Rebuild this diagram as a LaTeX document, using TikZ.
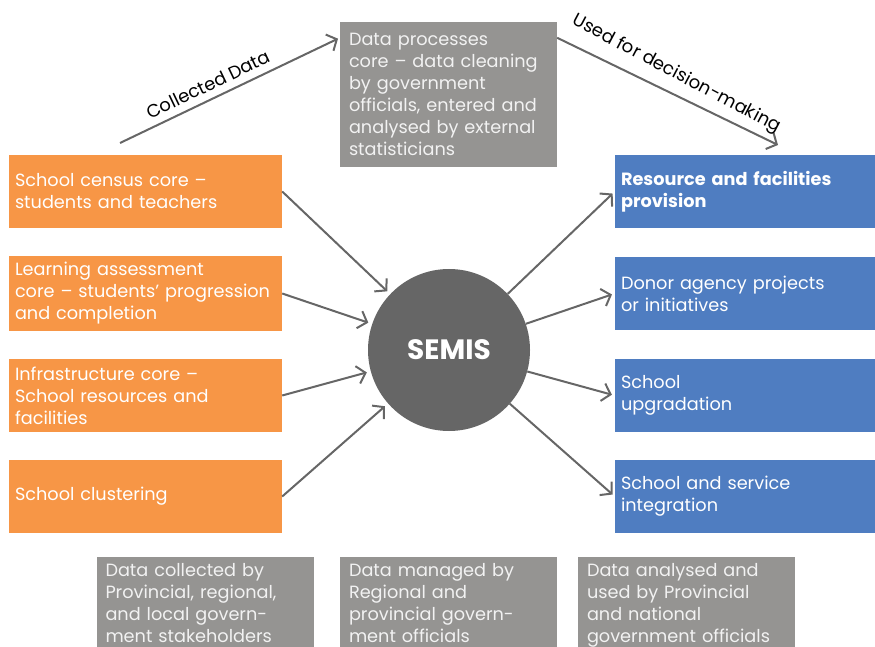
\documentclass[tikz,border=0pt]{standalone}
\usepackage{fontspec}
\setmainfont{Poppins}
\usetikzlibrary{arrows.meta}
\definecolor{coreorange}{HTML}{F79646}
\definecolor{useblue}{HTML}{4F7DC1}
\definecolor{notegrey}{HTML}{959492}
\definecolor{hubgrey}{HTML}{666666}
\definecolor{notetext}{HTML}{F2F2F2}

\begin{document}
\begin{tikzpicture}[x=1pt,y=1pt,
		every node/.style={font=\fontsize{17.7}{22}\selectfont},
		corebox/.style={fill=coreorange,text=white,minimum width=273pt,minimum height=73pt,text width=261pt,inner sep=6pt,align=left},
		usebox/.style={fill=useblue,text=white,minimum width=260pt,minimum height=73pt,text width=248pt,inner sep=6pt,align=left},
		notebox/.style={fill=notegrey,text=notetext,text width=199pt,inner xsep=9pt,inner ysep=6pt,align=left},
		flow/.style={draw=hubgrey,line width=2pt,-{Straight Barb[length=8pt,width=18pt]}},
		flowlabel/.style={font=\fontsize{18}{20}\selectfont,sloped,inner sep=2pt}
	]
		
		\useasboundingbox (0,0) rectangle (875,646);
		\clip (0,0) rectangle (875,646);
		
		\node[circle,fill=hubgrey,minimum size=162pt,text=white,font=\fontsize{28}{32}\bfseries] (semis) at (449,296) {SEMIS};
		
		\node[corebox] (census) at (145.5,454.5) {School census core –\\students and teachers};
		\node[corebox] (assess) at (145.5,352.5) {Learning assessment\\core – students’ progression\\and completion};
		\node[corebox] (infra) at (145.5,250.5) {Infrastructure core –\\School resources and\\facilities};
		\node[corebox] (cluster) at (145.5,149.5) {School clustering};
		
		\node[usebox,font=\fontsize{17.7}{22}\bfseries] (resource) at (745,454.5) {Resource and facilities\\provision};
		\node[usebox] (donor) at (745,352.5) {Donor agency projects\\or initiatives};
		\node[usebox] (upgrade) at (745,250.5) {School\\upgradation};
		\node[usebox] (service) at (745,149.5) {School and service\\integration};
		
		\node[notebox,minimum width=217pt,minimum height=145pt] (process) at (448.5,551.5) {Data processes\\core – data cleaning\\by government\\officials, entered and\\analysed by external\\statisticians};
		
		\node[notebox,anchor=north] (collect) at (205,89) {Data collected by\\Provincial, regional,\\and local govern-\\ment stakeholders};
		\node[notebox,anchor=north] (manage) at (448.5,89) {Data managed by\\Regional and\\provincial govern-\\ment officials};
		\node[notebox,anchor=north] (analyse) at (686.5,89) {Data analysed and\\used by Provincial\\and national\\government officials};
		
		\coordinate (collectstart) at (120,503);
		\coordinate (decisionend) at (778,501);
		
		\draw[flow,shorten >=2pt] (collectstart) -- node[flowlabel,above=5pt,pos=0.43] {Collected Data} ([yshift=-16pt]process.north west);
		\draw[flow] ([yshift=-16pt]process.north east) -- node[flowlabel,above=7pt,pos=0.5,rotate=-2] {Used for decision-making} (decisionend);
		
		\foreach \src in {census,assess,infra,cluster}
			\draw[flow,shorten >=4pt] (\src.east) -- (semis);
		\foreach \dst in {resource,donor,upgrade,service}
			\draw[flow,shorten >=3pt] (semis) -- (\dst.west);
		
	\end{tikzpicture}
\end{document}
